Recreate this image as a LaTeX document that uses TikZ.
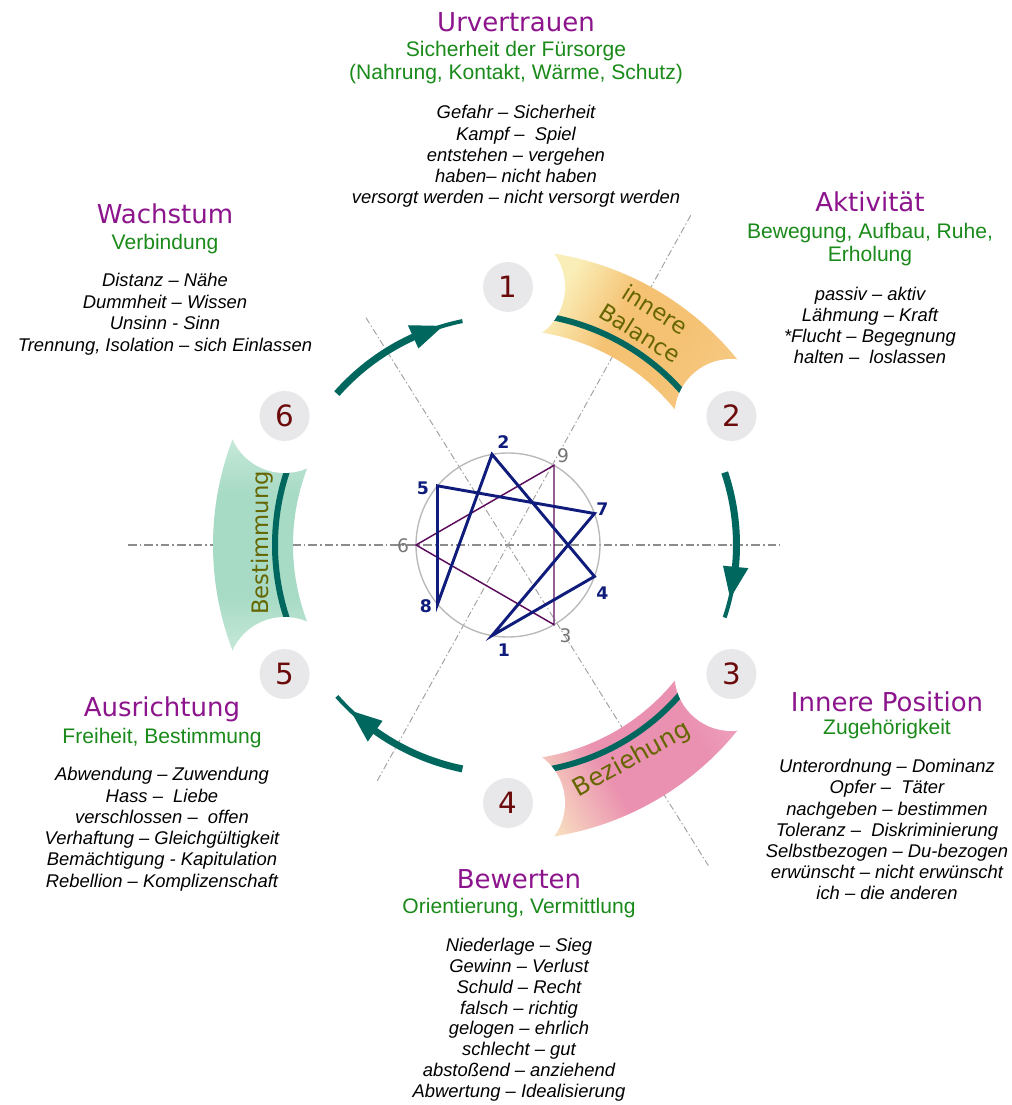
\documentclass[tikz,border=0pt]{standalone}
\usepackage{fontspec}
\setmainfont{Liberation Sans}
\newfontfamily\headfont{DejaVu Sans}
\definecolor{headpurple}{HTML}{8C148C}
\definecolor{txtgreen}{HTML}{1A8A1A}
\definecolor{numred}{HTML}{6B0A0A}
\definecolor{numbg}{HTML}{E8E8EA}
\definecolor{tealc}{HTML}{00675F}
\definecolor{navyc}{HTML}{101C7C}
\definecolor{tripurple}{HTML}{5C0C5C}
\definecolor{olivec}{HTML}{666600}
\definecolor{balA}{HTML}{FAEEB8}
\definecolor{balB}{HTML}{F5C274}
\definecolor{balC}{HTML}{F7CB86}
\definecolor{bezA}{HTML}{F8DCC0}
\definecolor{bezB}{HTML}{EA90B0}
\definecolor{bezC}{HTML}{EFA6C0}
\definecolor{besA}{HTML}{D8F0E4}
\definecolor{besB}{HTML}{A8DBC6}
\definecolor{axisA}{HTML}{8C8C8C}
\definecolor{axisB}{HTML}{A0A0A0}
\definecolor{ringgray}{HTML}{B8B8B8}
\definecolor{labgray}{HTML}{767676}

\pgfdeclareverticalshading{balshade}{100bp}{color(0bp)=(balC); color(25bp)=(balC); color(42bp)=(balB); color(56bp)=(balB); color(70bp)=(balA); color(100bp)=(balA)}
\pgfdeclareverticalshading{bezshade}{100bp}{color(0bp)=(bezC); color(25bp)=(bezC); color(38bp)=(bezB); color(58bp)=(bezB); color(74bp)=(bezA); color(100bp)=(bezA)}
\pgfdeclareverticalshading{besshade}{100bp}{color(0bp)=(besA); color(27bp)=(besA); color(41bp)=(besB); color(59bp)=(besB); color(73bp)=(besA); color(100bp)=(besA)}

\newcommand\bandsector[1]{(#1+30:295) arc[start angle=#1+30, end angle=#1-30, radius=295] -- (#1-30:215) arc[start angle=#1-30, end angle=#1+30, radius=215] -- cycle}
\newcommand\cyclearrow[1]{%
  \draw[tealc, line width=5.25pt] (#1+18.5:228.5) arc[start angle=#1+18.5, end angle=#1-6.5, radius=228.5];
  \fill[tealc] (#1-5.5:216) -- (#1-5.5:241.5) -- (#1-13.5:228.5) -- cycle;
  \draw[tealc, line width=3pt] (#1-11:228.5) arc[start angle=#1-11, end angle=#1-18.5, radius=228.5];}
\newcommand\itlines[5]{%
  \foreach \t [count=\i] in {#4} {\node[itl] (#5-\i) at ({#1},{#2-(\i-1)*#3}) {\t};}}

\begin{document}
\begin{tikzpicture}[x=0.75pt,y=0.75pt,
  head/.style={font=\headfont\fontsize{19.5}{19.5}\selectfont, text=headpurple, anchor=base, inner sep=0pt},
  grn/.style={font=\fontsize{15.8}{15.8}\selectfont, text=txtgreen, anchor=base, inner sep=0pt},
  itl/.style={font=\itshape\fontsize{13.8}{13.8}\selectfont, text=black, anchor=base, inner sep=0pt},
  numc/.style={circle, fill=numbg, minimum size=37.5pt, inner sep=0pt, text=numred, font=\headfont\fontsize{22}{22}\selectfont},
  bandtxt/.style={text=olivec, inner sep=0pt, font=\headfont\fontsize{17}{21}\selectfont},
  enlab/.style={text=navyc, inner sep=0pt, font=\headfont\bfseries\fontsize{13}{13}\selectfont},
  grlab/.style={text=labgray, inner sep=0pt, font=\headfont\fontsize{14}{14}\selectfont},
  axisH/.style={draw=axisA, line width=0.9pt, dash pattern=on 6.5pt off 2.2pt on 1.4pt off 2.2pt},
  axisD/.style={draw=axisB, line width=0.7pt, dash pattern=on 5pt off 2pt on 1pt off 2pt}]
\useasboundingbox (-508,-560) rectangle (504,545);
\fill[white] (-508,-560) rectangle (504,545);

% axes
\draw[axisH] (-380,0) -- (272,0);
\draw[axisD] (122:268) -- (-58:378);
\draw[axisD] (61:377) -- (241:270);

% bands
\shade[shading=balshade, shading angle=60] \bandsector{60};
\shade[shading=bezshade, shading angle=120] \bandsector{-60};
\shade[shading=besshade, shading angle=0] \bandsector{180};
\draw[tealc, line width=4.5pt] (90:232) arc[start angle=90, end angle=30, radius=232];
\draw[tealc, line width=4.5pt] (-30:228) arc[start angle=-30, end angle=-90, radius=228];
\draw[tealc, line width=4.5pt] (210:233) arc[start angle=210, end angle=150, radius=233];

% cut-outs and number circles
\foreach \a in {90,30,-30,-90,-150,150}
  \fill[white] (\a:258) circle[radius=57];
\foreach \a/\n in {90/1,30/2,-30/3,-90/4,-150/5,150/6}
  \node[numc] (n\n) at (\a:258) {\n};

% band labels
\node[bandtxt, rotate=-32, align=center] (tb1) at (58:264) {innere\\Balance};
\node[bandtxt, rotate=29, font=\headfont\fontsize{18.5}{18.5}\selectfont] (tb2) at (-60:248) {Beziehung};
\node[bandtxt, rotate=90] (tb3) at (-246,2) {Bestimmung};

% arrows
\cyclearrow{120}
\cyclearrow{0}
\cyclearrow{-120}

% enneagram
\foreach \n/\a in {9/60,7/20,4/-20,3/-60,1/-100,8/-140,6/180,5/140,2/100}
  \coordinate (e\n) at (\a:92);
\draw[ringgray, line width=1pt] (0,0) circle[radius=92];
\draw[tripurple, line width=1.1pt, line join=miter] (e9) -- (e6) -- (e3) -- cycle;
\draw[navyc, line width=2.2pt, line join=miter] (e1) -- (e4) -- (e2) -- (e8) -- (e5) -- (e7) -- cycle;
\node[enlab] (l2) at (-4.7,102.5) {2};
\node[enlab] (l5) at (-85,57) {5};
\node[enlab] (l7) at (94.5,36) {7};
\node[enlab] (l4) at (94.5,-48.3) {4};
\node[enlab] (l1) at (-4,-105.5) {1};
\node[enlab] (l8) at (-82,-61) {8};
\node[grlab] (g9) at (55,89.5) {9};
\node[grlab] (g6) at (-105,-1) {6};
\node[grlab] (g3) at (57.5,-91) {3};

% block 1
\node[head] (h1) at (8,513.3) {Urvertrauen};
\node[grn] (s1a) at (8,488.3) {Sicherheit der Fürsorge};
\node[grn] (s1b) at (8,465) {(Nahrung, Kontakt, Wärme, Schutz)};
\itlines{8}{426}{21.1}{Gefahr – Sicherheit, Kampf – ~Spiel, entstehen – vergehen, haben– nicht haben, versorgt werden – nicht versorgt werden}{b1}
% block 2
\node[head] (h2) at (362,333.3) {Aktivität};
\node[grn] (s2a) at (362,306.7) {Bewegung, Aufbau, Ruhe,};
\node[grn] (s2b) at (362,283.3) {Erholung};
\itlines{362}{244.3}{21.1}{passiv – aktiv, Lähmung – Kraft, *Flucht – Begegnung, halten – ~loslassen}{b2}
% block 3
\node[head] (h3) at (379,-166.7) {Innere Position};
\node[grn] (s3a) at (379,-190) {Zugehörigkeit};
\itlines{379}{-227.7}{21.2}{Unterordnung – Dominanz, Opfer – ~Täter, nachgeben – bestimmen, Toleranz – ~Diskriminierung, Selbstbezogen – Du-bezogen, erwünscht – nicht erwünscht, ich – die anderen}{b3}
% block 4
\node[head] (h4) at (11,-343.3) {Bewerten};
\node[grn] (s4a) at (11,-368.3) {Orientierung, Vermittlung};
\itlines{11}{-406.7}{20.8}{Niederlage – Sieg, Gewinn – Verlust, Schuld – Recht, falsch – richtig, gelogen – ehrlich, schlecht – gut, abstoßend – anziehend, Abwertung – Idealisierung}{b4}
% block 5
\node[head] (h5) at (-346,-171.7) {Ausrichtung};
\node[grn] (s5a) at (-346,-198.3) {Freiheit, Bestimmung};
\itlines{-346}{-235.7}{21.3}{Abwendung – Zuwendung, Hass – ~Liebe, verschlossen – ~offen, Verhaftung – Gleichgültigkeit, Bemächtigung - Kapitulation, Rebellion – Komplizenschaft}{b5}
% block 6
\node[head] (h6) at (-343,321.7) {Wachstum};
\node[grn] (s6a) at (-343,295) {Verbindung};
\itlines{-343}{258.3}{21.5}{Distanz – Nähe, Dummheit – Wissen, Unsinn - Sinn, {Trennung, Isolation – sich Einlassen}}{b6}
\end{tikzpicture}
\end{document}
